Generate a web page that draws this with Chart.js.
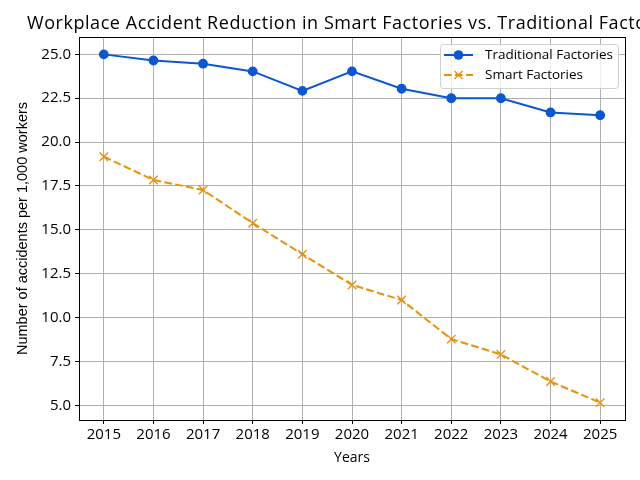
<!DOCTYPE html>
<html>
<head>
<meta charset="utf-8">
<script src="https://cdn.jsdelivr.net/npm/chart.js@4/dist/chart.umd.min.js"></script>
<style>
html,body{margin:0;padding:0;background:#fff;}
#wrap{width:640px;height:480px;}
</style>
</head>
<body>
<div id="wrap"><canvas id="c" width="640" height="480"></canvas></div>
<script>
const titleText = 'Workplace Accident Reduction in Smart Factories vs. Traditional Factories';
const years = ['2015','2016','2017','2018','2019','2020','2021','2022','2023','2024','2025'];
const traditional = [25.0, 24.65, 24.47, 24.03, 22.92, 24.03, 23.04, 22.5, 22.5, 21.69, 21.53];
const smart = [19.17, 17.84, 17.27, 15.38, 13.61, 11.86, 11.0, 8.77, 7.90, 6.35, 5.15];
const yTicks = [5.0, 7.5, 10.0, 12.5, 15.0, 17.5, 20.0, 22.5, 25.0];
const seriesNames = ['Traditional Factories', 'Smart Factories'];
const xTitle = 'Years';
const yTitle = 'Number of accidents per 1,000 workers';

const BLUE = '#0b57d0';
const ORANGE = '#e8910c';
const FONT = '"Open Sans", Roboto, sans-serif';
const FONT_Y = '"Liberation Sans", Arial, sans-serif';

const framePlugin = {
  id: 'frame',
  afterDraw(chart) {
    const {ctx, chartArea: a} = chart;
    ctx.save();
    ctx.strokeStyle = '#000';
    ctx.lineWidth = 1;
    ctx.strokeRect(Math.round(a.left) + 0.5, Math.round(a.top) + 0.5, Math.round(a.right - a.left), Math.round(a.bottom - a.top));
    // title
    ctx.fillStyle = '#000';
    ctx.font = '18px ' + FONT;
    ctx.textAlign = 'left';
    ctx.textBaseline = 'alphabetic';
    if ('letterSpacing' in ctx) ctx.letterSpacing = '0.55px';
    ctx.fillText(titleText, 27, 29);
    if ('letterSpacing' in ctx) ctx.letterSpacing = '0px';
    // legend
    const bx = 440, by = 44, bw = 178, bh = 44, r = 3;
    ctx.fillStyle = 'rgba(255,255,255,0.8)';
    ctx.strokeStyle = '#d0d0d0';
    ctx.lineWidth = 1;
    ctx.beginPath();
    ctx.roundRect(bx + 0.5, by + 0.5, bw, bh, r);
    ctx.fill();
    ctx.stroke();
    const rows = [
      {y: 55, color: BLUE, dash: [], marker: 'circle'},
      {y: 75, color: ORANGE, dash: [7.7, 3.3], marker: 'x'}
    ];
    rows.forEach((row, i) => {
      ctx.strokeStyle = row.color;
      ctx.lineWidth = 2;
      ctx.setLineDash(row.dash);
      ctx.beginPath();
      ctx.moveTo(444, row.y);
      ctx.lineTo(473, row.y);
      ctx.stroke();
      ctx.setLineDash([]);
      if (row.marker === 'circle') {
        ctx.fillStyle = row.color;
        ctx.beginPath();
        ctx.arc(458.5, row.y, 4.8, 0, Math.PI * 2);
        ctx.fill();
      } else {
        ctx.lineWidth = 1.4;
        ctx.beginPath();
        ctx.moveTo(454.5, row.y - 4); ctx.lineTo(462.5, row.y + 4);
        ctx.moveTo(454.5, row.y + 4); ctx.lineTo(462.5, row.y - 4);
        ctx.stroke();
      }
      ctx.fillStyle = '#000';
      ctx.font = '13.5px ' + FONT;
      ctx.textAlign = 'left';
      ctx.textBaseline = 'middle';
      ctx.fillText(seriesNames[i], 485, row.y);
    });
    ctx.restore();
  }
};

new Chart(document.getElementById('c'), {
  type: 'line',
  data: {
    labels: years,
    datasets: [
      {
        label: seriesNames[0],
        data: traditional,
        borderColor: BLUE,
        backgroundColor: BLUE,
        borderWidth: 2,
        pointStyle: 'circle',
        pointRadius: 4.2,
        pointBorderWidth: 1.4,
        tension: 0
      },
      {
        label: seriesNames[1],
        data: smart,
        borderColor: ORANGE,
        backgroundColor: ORANGE,
        borderWidth: 2,
        borderDash: [7.7, 3.3],
        pointStyle: 'crossRot',
        pointRadius: 6,
        pointBorderWidth: 1.4,
        tension: 0
      }
    ]
  },
  options: {
    responsive: false,
    animation: false,
    devicePixelRatio: 1,
    layout: {padding: {top: 37, right: 15, bottom: 0, left: 0}},
    plugins: {
      legend: {display: false},
      title: {display: false},
      tooltip: {enabled: false}
    },
    scales: {
      x: {
        type: 'category',
        offset: true,
        grid: {offset: false, color: '#b0b0b0', lineWidth: 1, tickColor: '#000', tickLength: 4},
        border: {color: '#000', width: 1},
        ticks: {color: '#000', font: {family: FONT, size: 15}, padding: 2, maxRotation: 0, autoSkip: false},
        title: {display: true, text: xTitle, color: '#000', font: {family: FONT, size: 14}, padding: {top: 2, bottom: 14}},
        afterFit(scale) { scale.height = 60; }
      },
      y: {
        min: 4.16,
        max: 25.99,
        grid: {color: '#b0b0b0', lineWidth: 1, tickColor: '#000', tickLength: 4},
        border: {color: '#000', width: 1},
        ticks: {color: '#000', font: {family: FONT, size: 15}, padding: 4, callback: v => Number(v).toFixed(1)},
        afterBuildTicks(scale) { scale.ticks = yTicks.map(v => ({value: v})); },
        title: {display: true, text: yTitle, color: '#000', font: {family: FONT_Y, size: 14.5}, padding: {top: 14, bottom: 4}},
        afterFit(scale) { scale.width = 79; }
      }
    }
  },
  plugins: [framePlugin]
});
</script>
</body>
</html>
